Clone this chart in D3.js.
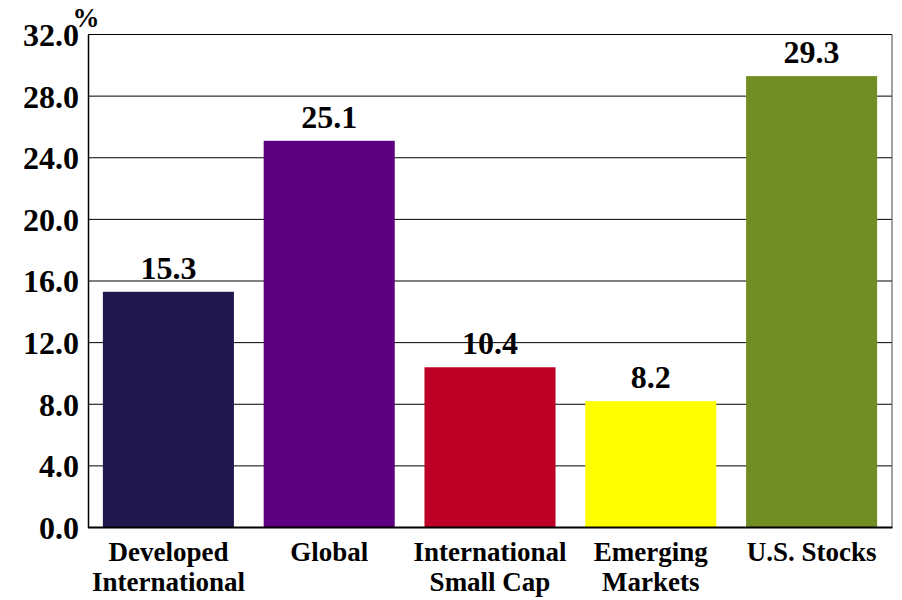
<!DOCTYPE html>
<html><head><meta charset="utf-8">
<script src="https://cdn.jsdelivr.net/npm/d3@7"></script>
<style>body{margin:0;background:#fff}svg{display:block}</style>
</head><body>
<script>
const categories = [["Developed","International"],["Global"],["International","Small Cap"],["Emerging","Markets"],["U.S. Stocks"]];
const values = [15.3, 25.1, 10.4, 8.2, 29.3];
const colors = ["#21194D", "#5C0080", "#BE0027", "#FFFF00", "#718E24"];
const yTicks = [0, 4, 8, 12, 16, 20, 24, 28, 32];

const W = 902, H = 600;
const m = {left: 88, right: 10, top: 34.5, bottom: 72.5};
const FONT = "Liberation Serif";
const svg = d3.select("body").append("svg").attr("width", W).attr("height", H);

const x = d3.scaleBand().domain(d3.range(values.length)).range([m.left, W - m.right]).paddingInner(0.185).paddingOuter(0.0925);
const y = d3.scaleLinear().domain([0, 32]).range([H - m.bottom, m.top]);

// gridlines
svg.append("g").selectAll("line").data(yTicks.slice(1)).join("line")
  .attr("x1", m.left).attr("x2", W - m.right)
  .attr("y1", d => y(d)).attr("y2", d => y(d))
  .attr("stroke", "#000").attr("stroke-width", 1);
// right border
svg.append("line").attr("x1", W - m.right).attr("x2", W - m.right).attr("y1", m.top).attr("y2", y(0)).attr("stroke", "#444").attr("stroke-width", 1);

// bars
svg.append("g").selectAll("rect").data(values).join("rect")
  .attr("x", (d, i) => x(i)).attr("width", x.bandwidth())
  .attr("y", d => y(d)).attr("height", d => y(0) - y(d))
  .attr("fill", (d, i) => colors[i]);

// y axis
const yAxis = d3.axisLeft(y).tickValues(yTicks).tickFormat(d3.format(".1f")).tickSize(0).tickPadding(9);
const gy = svg.append("g").attr("transform", `translate(${m.left},0)`).call(yAxis);
gy.attr("font-family", FONT);
gy.select(".domain").attr("stroke", "#000").attr("stroke-width", 1.5);
gy.selectAll("text").style("font-family", FONT).attr("font-weight", "bold").attr("font-size", 32).attr("fill", "#000").attr("dy", "0.34em");

// baseline
svg.append("line").attr("x1", m.left).attr("x2", W - m.right + 0.5).attr("y1", y(0)).attr("y2", y(0)).attr("stroke", "#000").attr("stroke-width", 2);

// % label
svg.append("text").attr("x", 86).attr("y", 27).attr("text-anchor", "middle")
  .style("font-family", FONT).attr("font-weight", "bold").attr("font-size", 27).text("%");

// value labels
svg.append("g").selectAll("text").data(values).join("text")
  .attr("x", (d, i) => x(i) + x.bandwidth() / 2).attr("y", d => y(d) - 13)
  .attr("text-anchor", "middle")
  .style("font-family", FONT).attr("font-weight", "bold").attr("font-size", 32)
  .text(d => d.toFixed(1));

// category labels
const cg = svg.append("g").selectAll("text").data(categories).join("text")
  .attr("text-anchor", "middle")
  .style("font-family", FONT).attr("font-weight", "bold").attr("font-size", 27)
  .attr("transform", (d, i) => `translate(${x(i) + x.bandwidth() / 2},0)`);
cg.selectAll("tspan").data(d => d).join("tspan").attr("x", 0).attr("y", (d, j) => 561 + j * 29.5).text(d => d);
</script>
</body></html>
